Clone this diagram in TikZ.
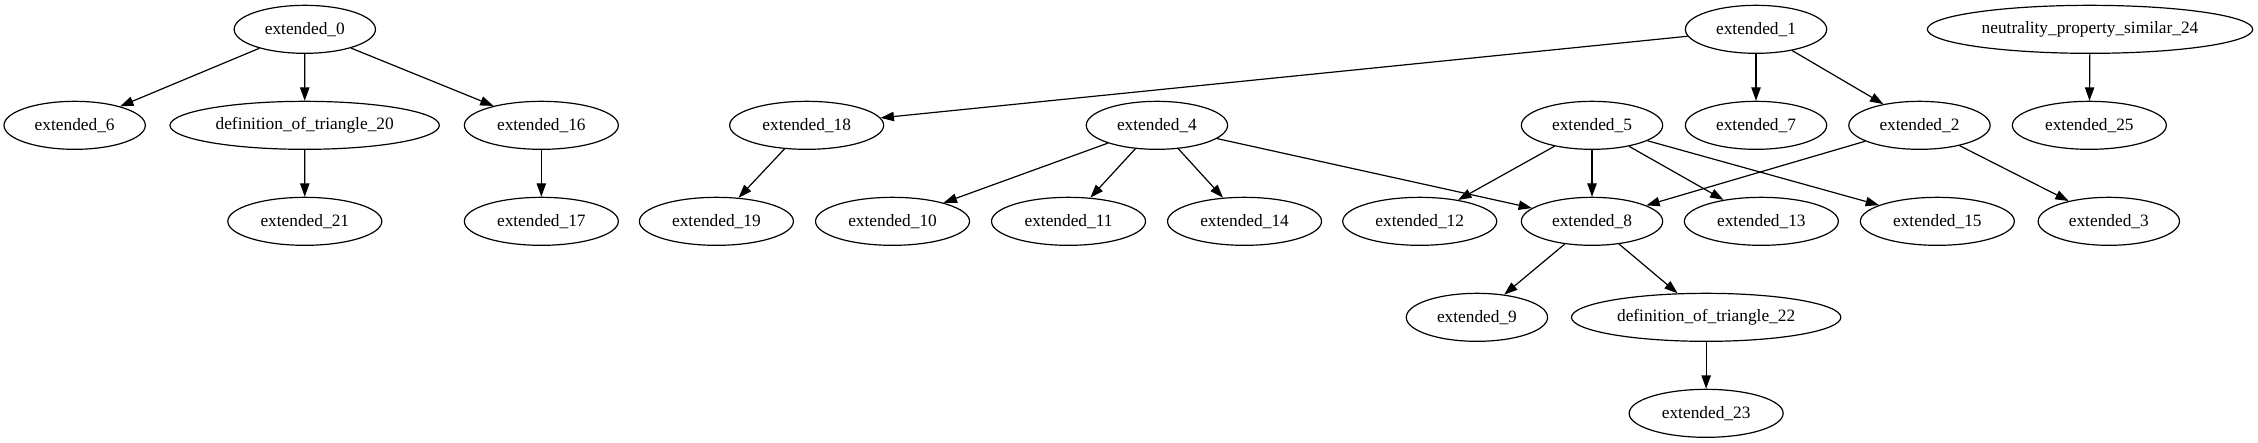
\documentclass[tikz,border=0pt]{standalone}
\usepackage{fontspec}
\setmainfont{Liberation Serif}
\usetikzlibrary{shapes.geometric,arrows.meta}
\begin{document}
\begin{tikzpicture}[x=1pt,y=1pt,
  gnode/.style={ellipse, draw, line width=0.9pt, inner sep=0pt, minimum height=36pt,
    font=\fontsize{13}{15}\selectfont},
  sw/.style={gnode, minimum width=106pt},
  dw/.style={gnode, minimum width=115.5pt},
  lw/.style={gnode, minimum width=202pt},
  xw/.style={gnode, minimum width=244pt},
  edge/.style={line width=0.9pt, -{Triangle[length=10pt,width=7pt]}}]
\useasboundingbox (0,0) rectangle (1693.5,332);
% rank 0
\node[sw] (e0) at (228.6,310) {extended\_0};
\node[sw] (e1) at (1317,310) {extended\_1};
\node[xw] (n24) at (1567.5,310) {neutrality\_property\_similar\_24};
% rank 1
\node[sw] (e6) at (56,238) {extended\_6};
\node[lw] (d20) at (228.5,238) {definition\_of\_triangle\_20};
\node[dw] (e16) at (406,238) {extended\_16};
\node[dw] (e18) at (605,238) {extended\_18};
\node[sw] (e4) at (867.7,238) {extended\_4};
\node[sw] (e5) at (1194,238) {extended\_5};
\node[sw] (e7) at (1317,238) {extended\_7};
\node[sw] (e2) at (1439.6,238) {extended\_2};
\node[dw] (e25) at (1567,238) {extended\_25};
% rank 2
\node[dw] (e21) at (228.6,166) {extended\_21};
\node[dw] (e17) at (406,166) {extended\_17};
\node[dw] (e19) at (537.3,166) {extended\_19};
\node[dw] (e10) at (669.4,166) {extended\_10};
\node[dw] (e11) at (801.4,166) {extended\_11};
\node[dw] (e14) at (933.4,166) {extended\_14};
\node[dw] (e12) at (1064.8,166) {extended\_12};
\node[sw] (e8) at (1194,166) {extended\_8};
\node[dw] (e13) at (1321,166) {extended\_13};
\node[dw] (e15) at (1453,166) {extended\_15};
\node[sw] (e3) at (1581.6,166) {extended\_3};
% rank 3
\node[sw] (e9) at (1107.7,94) {extended\_9};
\node[lw] (d22) at (1279.6,94) {definition\_of\_triangle\_22};
% rank 4
\node[dw] (e23) at (1279.6,22) {extended\_23};
% edges
\draw[edge] (e0) -- (e6);
\draw[edge] (e0) -- (d20);
\draw[edge] (e0) -- (e16);
\draw[edge] (d20) -- (e21);
\draw[edge] (e16) -- (e17);
\draw[edge] (e1) -- (e18);
\draw[edge] (e1) -- (e7);
\draw[edge] (e1) -- (e2);
\draw[edge] (n24) -- (e25);
\draw[edge] (e18) -- (e19);
\draw[edge] (e4) -- (e10);
\draw[edge] (e4) -- (e11);
\draw[edge] (e4) -- (e14);
\draw[edge] (e4) -- (e8);
\draw[edge] (e5) -- (e12);
\draw[edge] (e5) -- (e8);
\draw[edge] (e5) -- (e13);
\draw[edge] (e5) -- (e15);
\draw[edge] (e2) -- (e8);
\draw[edge] (e2) -- (e3);
\draw[edge] (e8) -- (e9);
\draw[edge] (e8) -- (d22);
\draw[edge] (d22) -- (e23);
\end{tikzpicture}
\end{document}
